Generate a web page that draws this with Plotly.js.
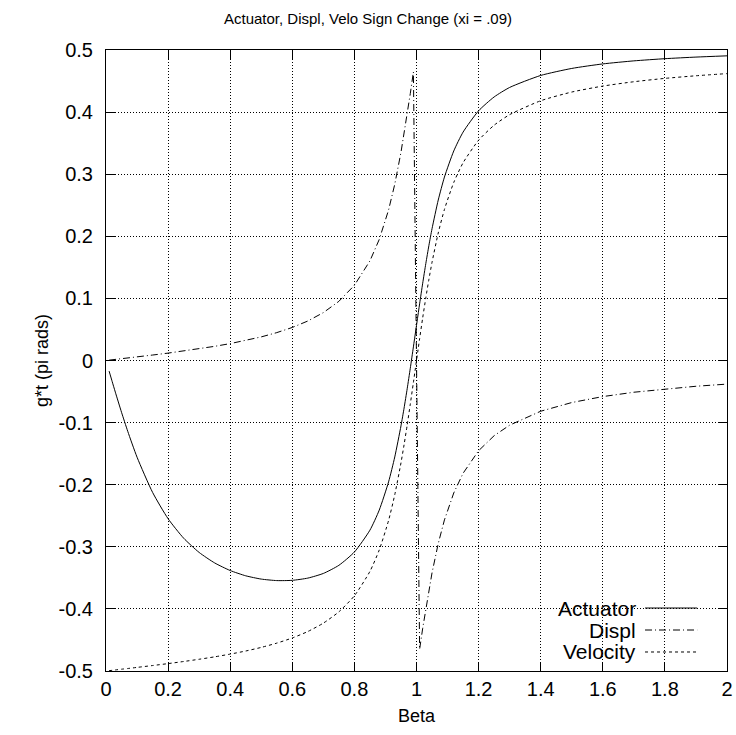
<!DOCTYPE html>
<html>
<head>
<meta charset="utf-8">
<script src="https://cdn.plot.ly/plotly-3.0.1.min.js"></script>
<style>html,body{margin:0;padding:0;background:#fff}</style>
</head>
<body>
<div id="chart" style="width:736px;height:735px"></div>
<script>
const beta = [0.01, 0.02, 0.03, 0.05, 0.07, 0.1, 0.15, 0.2, 0.25, 0.3, 0.35, 0.4, 0.45, 0.5, 0.55, 0.6, 0.65, 0.7, 0.75, 0.8, 0.85, 0.88, 0.91, 0.93, 0.95, 0.96, 0.97, 0.98, 0.99, 1.01, 1.02, 1.03, 1.04, 1.05, 1.07, 1.09, 1.12, 1.15, 1.2, 1.25, 1.3, 1.4, 1.5, 1.6, 1.7, 1.8, 1.9, 2.0];
const actuator = [-0.0171, -0.0341, -0.0509, -0.0834, -0.1140, -0.1557, -0.2124, -0.2548, -0.2861, -0.3091, -0.3260, -0.3382, -0.3467, -0.3520, -0.3544, -0.3540, -0.3504, -0.3429, -0.3298, -0.3084, -0.2732, -0.2409, -0.1955, -0.1553, -0.1053, -0.0766, -0.0455, -0.0125, 0.0219, 0.0912, 0.1245, 0.1561, 0.1854, 0.2122, 0.2584, 0.2954, 0.3374, 0.3678, 0.4021, 0.4244, 0.4397, 0.4590, 0.4703, 0.4776, 0.4825, 0.4860, 0.4886, 0.4906];
const displ = [0.0006, 0.0011, 0.0017, 0.0029, 0.0040, 0.0058, 0.0088, 0.0119, 0.0153, 0.0189, 0.0228, 0.0272, 0.0322, 0.0380, 0.0449, 0.0532, 0.0636, 0.0771, 0.0953, 0.1211, 0.1604, 0.1949, 0.2423, 0.2839, 0.3351, 0.3644, 0.3961, 0.4297, 0.4646, -0.4650, -0.4311, -0.3990, -0.3692, -0.3419, -0.2947, -0.2567, -0.2133, -0.1816, -0.1453, -0.1211, -0.1041, -0.0817, -0.0677, -0.0581, -0.0511, -0.0457, -0.0415, -0.0380];
const velocity = [-0.4994, -0.4989, -0.4983, -0.4971, -0.4960, -0.4942, -0.4912, -0.4881, -0.4847, -0.4811, -0.4772, -0.4728, -0.4678, -0.4620, -0.4551, -0.4468, -0.4364, -0.4229, -0.4047, -0.3789, -0.3396, -0.3051, -0.2577, -0.2161, -0.1649, -0.1356, -0.1039, -0.0703, -0.0354, 0.0350, 0.0689, 0.1010, 0.1308, 0.1581, 0.2053, 0.2433, 0.2867, 0.3184, 0.3547, 0.3789, 0.3959, 0.4183, 0.4323, 0.4419, 0.4489, 0.4543, 0.4585, 0.4620];
const seriesNames = ["Actuator", "Displ", "Velocity"];
const xTickVals = [0, 0.2, 0.4, 0.6, 0.8, 1, 1.2, 1.4, 1.6, 1.8, 2];
const xTickText = ["0", "0.2", "0.4", "0.6", "0.8", "1", "1.2", "1.4", "1.6", "1.8", "2"];
const yTickVals = [-0.5, -0.4, -0.3, -0.2, -0.1, 0, 0.1, 0.2, 0.3, 0.4, 0.5];
const yTickText = ["-0.5", "-0.4", "-0.3", "-0.2", "-0.1", "0", "0.1", "0.2", "0.3", "0.4", "0.5"];

const FONT = "Liberation Sans, Arial, Helvetica, sans-serif";
const dashes = ["solid", "7px,3px,1px,3px", "3px,3px"];
const ys = [actuator, displ, velocity];

const traces = seriesNames.map((n, i) => ({
  x: beta, y: ys[i], name: n, type: "scatter", mode: "lines",
  line: {color: "#000", width: 1, dash: dashes[i], shape: i === 1 ? "linear" : "spline", smoothing: 0.6},
  showlegend: false, hoverinfo: "skip"
}));

// gnuplot-style key: text right-aligned, sample line on the right
const keyTextX = 0.857, keyLineX0 = 0.868, keyLineX1 = 0.952;
const keyY = [0.1014, 0.066, 0.0306];
const annotations = seriesNames.map((n, i) => ({
  xref: "paper", yref: "paper", x: keyTextX, y: keyY[i], text: n,
  showarrow: false, xanchor: "right", yanchor: "middle",
  font: {family: FONT, size: 21, color: "#000"}
}));
const shapes = [{
  type: "rect", xref: "paper", yref: "paper", x0: 0.6795, x1: 0.9807, y0: 0, y1: 0.1176,
  fillcolor: "#fff", line: {width: 0}, layer: "between"
}].concat(seriesNames.map((n, i) => ({
  type: "line", xref: "paper", yref: "paper", x0: keyLineX0, x1: keyLineX1, y0: keyY[i], y1: keyY[i],
  line: {color: "#000", width: 1, dash: dashes[i]}
})));

const axisCommon = {
  showline: true, linecolor: "#000", linewidth: 1, mirror: "ticks",
  ticks: "inside", ticklen: 9, tickwidth: 1, tickcolor: "#000",
  showgrid: true, gridcolor: "#000", gridwidth: 1, griddash: "1px,2px",
  zeroline: false, tickfont: {family: FONT, size: 20, color: "#000"}
};

const layout = {
  width: 736, height: 735,
  margin: {l: 106, r: 9, t: 50, b: 64},
  paper_bgcolor: "#fff", plot_bgcolor: "#fff",
  font: {family: FONT, color: "#000"},
  title: {text: "Actuator, Displ, Velo Sign Change (xi = .09)", font: {family: FONT, size: 15, color: "#000"},
          xref: "container", x: 0.5, xanchor: "center", yref: "container", y: 0.975, yanchor: "middle"},
  xaxis: Object.assign({}, axisCommon, {range: [0, 2], tickvals: xTickVals, ticktext: xTickText,
          title: {text: "Beta", font: {family: FONT, size: 18, color: "#000"}, standoff: 10}}),
  yaxis: Object.assign({}, axisCommon, {range: [-0.5, 0.5], tickvals: yTickVals, ticktext: yTickText,
          ticklabelstandoff: 8,
          title: {text: "g*t (pi rads)", font: {family: FONT, size: 18, color: "#000"}, standoff: 5}}),
  showlegend: false,
  annotations: annotations,
  shapes: shapes
};

Plotly.newPlot("chart", traces, layout, {displayModeBar: false, staticPlot: true});
</script>
</body>
</html>
